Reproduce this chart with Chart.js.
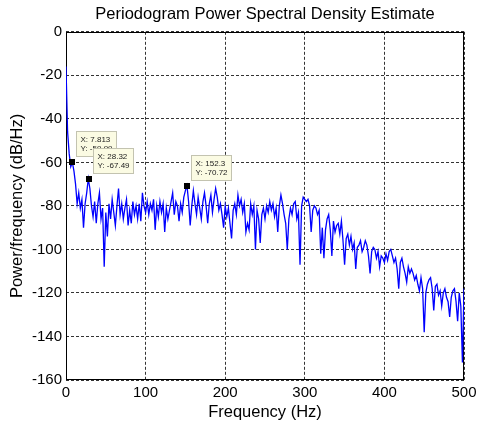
<!DOCTYPE html>
<html lang="en">
<head>
<meta charset="UTF-8">
<title>Periodogram Power Spectral Density Estimate</title>
<script src="https://cdn.jsdelivr.net/npm/chart.js"></script>
<style>
    html, body {
        margin: 0;
        padding: 0;
        background: #fff;
    }

    #wrap {
        width: 477px;
        height: 425px;
    }
</style>
</head>
<body>
<div id="wrap"><canvas id="psd" width="477" height="425"></canvas></div>

<script>
    // spacing of the values below, Hz (read every 2 Hz off the plot)
    const df = 2;

    // power/frequency in dB/Hz, 0 .. 500 Hz
    const psdDb = [
        -16, -46, -56, -62, -60, -64, -70, -79, -74, -81,
        -77, -90, -79, -74, -67.5, -72, -80, -85, -78, -88,
        -79, -74, -86, -81, -108, -83, -94, -79, -86, -77,
        -83, -89, -80, -72, -84, -79, -86, -81, -77, -89,
        -82, -88, -78, -84, -80, -86, -79, -87, -74, -80,
        -83, -78, -84, -79, -82, -77, -91, -80, -85, -78,
        -83, -79, -92, -81, -86, -82, -78, -74, -84, -78,
        -80, -87, -79, -83, -76, -73, -70.7, -78, -89, -80,
        -73, -79, -84, -76, -81, -86, -78, -74, -80, -88,
        -79, -75, -83, -77, -72, -76, -82, -79, -84, -90,
        -80, -85, -81, -88, -95, -82, -79, -84, -75, -80,
        -77, -83, -79, -92, -88, -91, -79, -84, -80, -100,
        -82, -86, -97, -84, -81, -86, -80, -83, -78, -82,
        -79, -85, -81, -92, -80, -75, -79, -84, -88, -100,
        -86, -81, -84, -79, -78, -86, -83, -107, -80, -76,
        -77, -78, -77, -80, -92, -82, -80, -81, -84, -82,
        -102, -90, -104, -91, -86, -84, -91, -103, -87, -92,
        -89, -88, -93, -87, -96, -107, -95, -93, -98, -94,
        -100, -97, -109, -99, -98, -96, -101, -99, -96, -98,
        -103, -111, -101, -99, -100, -104, -101, -108, -103, -104,
        -106, -102, -105, -101, -100, -103, -106, -104, -109, -118,
        -106, -104, -108, -111, -115, -108, -111, -109, -111, -114,
        -112, -116, -119, -113, -118, -138, -120, -116, -114, -113,
        -118, -128, -117, -116, -121, -119, -126, -120, -118, -122,
        -124, -131, -122, -119, -118, -124, -133, -120, -126, -152,
        -118
    ];
    const freqs = psdDb.map((_, i) => i * df);

    const xTicks = [0, 100, 200, 300, 400, 500];
    const yTicks = [-160, -140, -120, -100, -80, -60, -40, -20, 0];

    // data tips placed on the trace
    const tipX = [7.813, 28.32, 152.3];
    const tipY = [-59.99, -67.49, -70.72];

    const FONT = 'Liberation Sans, Arial, Helvetica, sans-serif';

    // MATLAB style box round the axes
    const boxPlugin = {
        id: 'axesBox',
        beforeDatasetsDraw(chart) {
            const { ctx, chartArea } = chart;
            const l = Math.round(chartArea.left) + 0.5;
            const t = Math.round(chartArea.top) + 0.5;
            const r = Math.round(chartArea.right) - 0.5;
            const b = Math.round(chartArea.bottom) - 0.5;
            ctx.save();
            ctx.strokeStyle = '#000';
            ctx.lineWidth = 1;
            ctx.strokeRect(l, t, r - l, b - t);
            ctx.restore();
        }
    };

    const tipPlugin = {
        id: 'dataTips',
        afterDatasetsDraw(chart) {
            const { ctx } = chart;
            const xs = chart.scales.x, ys = chart.scales.y;
            ctx.save();
            ctx.font = '8px ' + FONT;
            tipX.forEach((fx, k) => {
                const px = xs.getPixelForValue(fx);
                const py = ys.getPixelForValue(tipY[k]);
                const lines = ['X: ' + fx, 'Y: ' + tipY[k]];
                const w = Math.round(Math.max(...lines.map(s => ctx.measureText(s).width)) + 8);
                const h = 25;
                const bx = Math.round(px + 4) + 0.5;
                const by = Math.round(py - 31) + 0.5;
                ctx.fillStyle = '#fbfbe3';
                ctx.fillRect(bx, by, w, h);
                ctx.strokeStyle = '#c3c3b0';
                ctx.lineWidth = 1;
                ctx.strokeRect(bx, by, w, h);
                ctx.fillStyle = '#222';
                ctx.textBaseline = 'middle';
                ctx.fillText(lines[0], bx + 4, by + 8);
                ctx.fillText(lines[1], bx + 4, by + 17.5);
                ctx.fillStyle = '#000';
                ctx.fillRect(Math.round(px) - 3, Math.round(py) - 3, 6, 6);
            });
            ctx.restore();
        }
    };

    new Chart(document.getElementById('psd').getContext('2d'), {
        type: 'line',
        data: {
            datasets: [{
                data: freqs.map((f, i) => ({ x: f, y: psdDb[i] })),
                borderColor: '#0000ff',
                borderWidth: 1.3,
                pointRadius: 0,
                tension: 0,
                fill: false
            }]
        },
        options: {
            responsive: false,
            animation: false,
            events: [],
            layout: { padding: { right: 13 } },
            plugins: {
                legend: { display: false },
                tooltip: { enabled: false },
                title: {
                    display: true,
                    fullSize: false,
                    text: 'Periodogram Power Spectral Density Estimate',
                    color: '#000',
                    font: { family: FONT, size: 16.5, weight: 'normal' },
                    padding: { top: 5, bottom: 7 }
                }
            },
            scales: {
                x: {
                    type: 'linear',
                    min: 0,
                    max: 500,
                    afterBuildTicks: s => { s.ticks = xTicks.map(v => ({ value: v })); },
                    afterFit: s => {
                        s.height = 45;
                        s.paddingLeft = 0;
                        s.paddingRight = 0;
                    },
                    grid: { color: 'rgba(0,0,0,0.8)', drawTicks: false },
                    border: { display: false, dash: [3, 2] },
                    ticks: {
                        color: '#000',
                        font: { family: FONT, size: 15 },
                        padding: 4,
                        maxRotation: 0
                    },
                    title: {
                        display: true,
                        text: 'Frequency (Hz)',
                        color: '#000',
                        font: { family: FONT, size: 16.5 },
                        padding: { top: 0, bottom: 3 }
                    }
                },
                y: {
                    type: 'linear',
                    min: -160,
                    max: 0,
                    afterBuildTicks: s => { s.ticks = yTicks.map(v => ({ value: v })); },
                    afterFit: s => { s.width = 66; },
                    grid: { color: 'rgba(0,0,0,0.8)', drawTicks: false },
                    border: { display: false, dash: [3, 2] },
                    ticks: {
                        color: '#000',
                        font: { family: FONT, size: 15 },
                        padding: 4
                    },
                    title: {
                        display: true,
                        text: 'Power/frequency (dB/Hz)',
                        color: '#000',
                        font: { family: FONT, size: 16.5 },
                        padding: { top: 8, bottom: 0 }
                    }
                }
            }
        },
        plugins: [boxPlugin, tipPlugin]
    });
</script>
</body>
</html>
